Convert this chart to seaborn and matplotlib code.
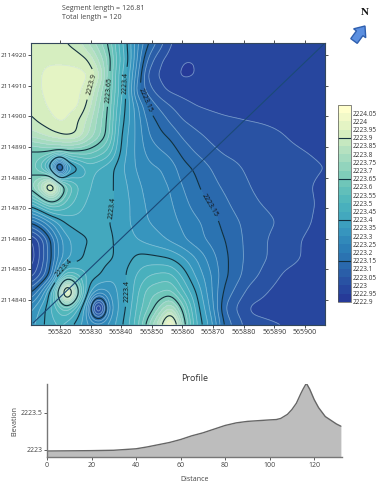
import numpy as np
import matplotlib
matplotlib.use("Agg")
import matplotlib.pyplot as plt
from matplotlib.patches import FancyArrow
import seaborn as sns

sns.set_style("white")
plt.rcParams['font.family'] = ['Open Sans', 'DejaVu Sans']

# survey grid (easting, northing)
easting = [565810.5, 565814, 565817, 565820, 565822, 565826, 565829, 565832.5, 565836, 565839, 565842,
           565845.5, 565849, 565853, 565856, 565860, 565864.5, 565869, 565874, 565882, 565893.5, 565906.6]
northing = [2114924, 2114918.5, 2114913.5, 2114908.5, 2114903.5, 2114898.7, 2114893.8, 2114888.9, 2114883.3,
            2114877, 2114871, 2114865.4, 2114859.5, 2114853.6, 2114848, 2114842.5, 2114837.3, 2114832]
base_elev = 2223.0
# elevation above base, in hundredths, one row per northing
elev_cm = [
 [92,92,92,91,90,87,80,72,64,50,40,25,15,7,0,-2,-3,-3,-3,-3,-3,-3],
 [94,94,94,94,94,93,91,80,68,52,42,23,8,0,-2,-5,-5,-3,-3,-3,-3,-3],
 [93,95,97,97,97,97,96,89,66,50,39,20,2,-1,-3,-6,-5,-3,-3,-3,-3,-3],
 [93,95,97,97,97,96,93,80,65,50,39,15,7,1,-1,-2,-3,-3,-3,-3,-3,-3],
 [91,94,96,97,97,96,89,76,64,47,38,25,14,8,5,2,0,-1,-2,-3,-3,-3],
 [89,92,94,96,95,90,84,73,63,45,37,27,18,13,9,5,3,2,1,0,-1,-3],
 [82,85,88,90,92,90,80,72,62,43,35,28,20,16,14,9,6,4,3,2,0,-3],
 [64,66,67,67,67,66,64,60,54,42,34,28,23,20,18,13,9,6,4,3,1,-1],
 [63,52,34,-25,28,38,47,45,42,38,33,29,26,25,23,17,14,10,7,4,2,0],
 [68,85,112,80,62,50,46,43,41,39,35,31,28,26,25,20,16,12,9,5,2,-1],
 [42,50,58,56,52,47,44,42,41,39,36,32,29,27,26,22,18,15,11,6,3,-1],
 [15,22,30,37,41,43,42,41,40,39,36,32,30,28,27,24,21,18,13,8,4,-2],
 [-7,2,15,28,33,38,40,41,41,39,37,35,33,31,29,26,22,19,15,8,2,-3],
 [-9,2,14,28,33,38,42,42,41,39,38,42,42,41,40,36,30,23,16,8,2,-3],
 [-3,6,17,40,55,50,44,41,37,36,41,46,50,52,52,44,34,26,16,7,-1,-4],
 [14,26,43,72,128,65,39,27,30,36,39,50,58,60,62,51,40,27,13,3,-3,-5],
 [28,37,45,53,58,44,30,-25,27,35,41,52,60,72,82,63,43,30,9,-1,-3,-5],
 [33,39,43,46,43,37,30,29,31,37,43,54,70,86,115,70,45,34,13,2,0,-4],
]
levels = [2222.9, 2222.95, 2223.0, 2223.05, 2223.1, 2223.15, 2223.2, 2223.25, 2223.3, 2223.35, 2223.4, 2223.45,
          2223.5, 2223.55, 2223.6, 2223.65, 2223.7, 2223.75, 2223.8, 2223.85, 2223.9, 2223.95, 2224.0, 2224.05, 2224.1]
major_levels = [2223.15, 2223.4, 2223.65, 2223.9]
color_stops = ["#263a98", "#2a5da8", "#2b7cb5", "#3a9cc0", "#4cb4bc", "#74c9b8", "#a8dcc0", "#d8efc0", "#ffffcc"]

segment_x = [565811.2, 565906.6]
segment_y = [2114832.5, 2114924]

contour_label_pos = [(565831.5, 2114910), (565836, 2114908.5), (565841.5, 2114911), (565847, 2114905),
                     (565837.5, 2114870), (565869, 2114871), (565820.5, 2114851), (565842, 2114843)]

profile_dist = [0, 20, 30, 40, 45, 50, 55, 60, 65, 70, 75, 80, 85, 90, 95, 100, 103, 105, 108, 110, 112, 114, 115,
                116.5, 118, 120, 122, 125, 128, 130, 132]
profile_elev = [2222.985, 2222.99, 2222.995, 2223.015, 2223.04, 2223.07, 2223.10, 2223.14, 2223.19, 2223.23, 2223.28,
                2223.33, 2223.365, 2223.385, 2223.395, 2223.405, 2223.41, 2223.425, 2223.48, 2223.545, 2223.63, 2223.76,
                2223.82, 2223.90, 2223.82, 2223.68, 2223.57, 2223.45, 2223.39, 2223.35, 2223.32]

W, H = 377, 484
fig = plt.figure(figsize=(W / 100, H / 100), dpi=100)


def axes_px(l, t, r, b):
    return fig.add_axes([l / W, 1 - b / H, (r - l) / W, (b - t) / H])


def surface(xs, ys, z, step=0.5, sigma=1.3):
    """Resample the read-off grid to a fine mesh and soften it, as a gridding tool draws it."""
    xs, ys, z = np.asarray(xs), np.asarray(ys)[::-1], np.asarray(z, dtype=float)[::-1]
    fx = np.arange(xs[0], xs[-1] + step, step)
    fy = np.arange(ys[0], ys[-1] + step, step)
    a = np.array([np.interp(fx, xs, row) for row in z])
    a = np.array([np.interp(fy, ys, col) for col in a.T]).T
    r = int(4 * sigma / step)
    k = np.exp(-0.5 * (np.arange(-r, r + 1) * step / sigma) ** 2)
    k /= k.sum()
    a = np.pad(a, r, mode="edge")
    a = np.apply_along_axis(lambda v: np.convolve(v, k, mode="same"), 0, a)
    a = np.apply_along_axis(lambda v: np.convolve(v, k, mode="same"), 1, a)
    return fx, fy, a[r:-r, r:-r]


ax = axes_px(31, 43, 325, 324.5)
fx, fy, fz = surface(easting, northing, base_elev + np.array(elev_cm, dtype=float) / 100)
fz = np.clip(fz, levels[0] + 0.001, levels[-1] - 0.001)

palette = sns.blend_palette(color_stops, n_colors=len(levels) - 1)
cf = ax.contourf(fx, fy, fz, levels=levels, colors=palette)
minor = [l for l in levels if l not in major_levels]
ax.contour(fx, fy, fz, levels=minor, colors="#c4dcee", linewidths=0.6, alpha=0.5)
cs = ax.contour(fx, fy, fz, levels=major_levels, colors="#12303f", linewidths=0.8)
ax.clabel(cs, fmt=lambda v: f"{v:.6g}", fontsize=5, colors="#111111", inline=True,
          manual=contour_label_pos)
sns.lineplot(x=segment_x, y=segment_y, ax=ax, color="#1b4a78", linewidth=0.8, legend=False)

ax.set_xlim(easting[0], easting[-1])
ax.set_ylim(northing[-1], northing[0])
ax.set_xticks([565820, 565830, 565840, 565850, 565860, 565870, 565880, 565890, 565900])
ax.set_yticks([2114840, 2114850, 2114860, 2114870, 2114880, 2114890, 2114900, 2114910, 2114920])
ax.ticklabel_format(useOffset=False, style="plain")
ax.tick_params(axis="x", which="major", length=2, width=0.6, labelsize=5, pad=1.2,
               colors="#333333", bottom=True, top=True, labeltop=False)
ax.tick_params(axis="y", which="major", length=2, width=0.6, labelsize=4.6, pad=1.0,
               colors="#333333", left=True, right=True, labelright=False)
for s in ax.spines.values():
    s.set_color("#33475b")
    s.set_linewidth(0.8)

# colour bar
cax = axes_px(338, 105, 350.5, 301.7)
cb = fig.colorbar(cf, cax=cax, ticks=levels[:-1], format=lambda v, p: f"{v:.6g}")
cb.ax.tick_params(length=0, labelsize=4.7, pad=1.5, colors="#333333")
cb.outline.set_edgecolor("#555555")
cb.outline.set_linewidth(0.5)
cb.add_lines(cs)

# header text
fig.text(62 / W, 1 - 8.5 / H, "Segment length = 126.81", fontsize=5.1, color="#444444", va="center")
fig.text(62 / W, 1 - 17.5 / H, "Total length = 120", fontsize=5.1, color="#444444", va="center")
fig.text(364.5 / W, 1 - 12.5 / H, "N", fontsize=8, fontweight="bold", family=["Liberation Serif"], ha="center",
         va="center", color="#111111")

# north arrow
ov = fig.add_axes([0, 0, 1, 1], facecolor="none")
ov.set_axis_off()
ov.set_xlim(0, W)
ov.set_ylim(H, 0)
ov.add_patch(FancyArrow(354, 41, 11, -15, width=8, head_width=15, head_length=9, length_includes_head=True,
                        facecolor="#5b8fe0", edgecolor="#2f5fae", linewidth=1))

# profile
pax = axes_px(47, 384, 342, 457.3)
sns.lineplot(x=profile_dist, y=profile_elev, ax=pax, color="#666666", linewidth=1, legend=False)
pax.fill_between(profile_dist, profile_elev, 2222.9, color="#bdbdbd", linewidth=0)
pax.set_xlim(0, 132.5)
pax.set_ylim(2222.9, 2223.89)
pax.set_xticks([0, 20, 40, 60, 80, 100, 120])
pax.set_yticks([2223, 2223.5])
pax.set_yticklabels(["2223", "2223.5"])
pax.tick_params(axis="both", length=2, width=0.6, labelsize=5, pad=1.5, colors="#444444", bottom=True, left=True)
pax.set_xlabel("Distance", fontsize=5, color="#444444", labelpad=5)
pax.set_ylabel("Elevation", fontsize=5, color="#444444", labelpad=1.5)
pax.set_title("Profile", fontsize=6.5, color="#333333", pad=2)
sns.despine(ax=pax)
for k in ("left", "bottom"):
    pax.spines[k].set_color("#777777")
    pax.spines[k].set_linewidth(1)

fig.savefig("out.png", dpi=100)
